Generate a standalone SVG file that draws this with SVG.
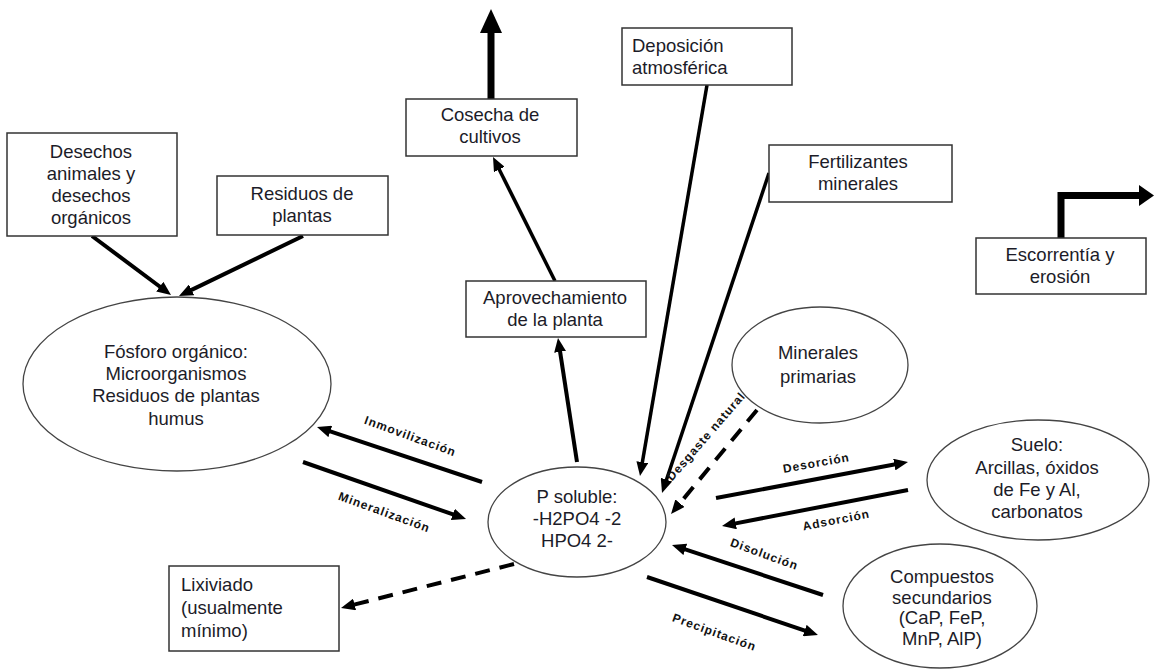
<svg xmlns="http://www.w3.org/2000/svg" width="1154" height="669" viewBox="0 0 1154 669">
  <style>
    .box { fill: #ffffff; stroke: #333333; stroke-width: 1.5; }
    .oval { fill: #ffffff; stroke: #444444; stroke-width: 1.3; }
    .t { font-family: "Liberation Sans", Arial, sans-serif; font-size: 18.5px; fill: #1c1c28; text-anchor: middle; }
    .tl { text-anchor: start; }
    .lbl { font-family: "Liberation Sans", Arial, sans-serif; font-size: 12px; font-weight: bold; fill: #111111; text-anchor: middle; letter-spacing: 1px; }
    .arr { stroke: #000000; stroke-width: 4; fill: none; marker-end: url(#head); }
    .dash { stroke: #000000; stroke-width: 4; fill: none; stroke-dasharray: 15 10; marker-end: url(#head); }
    .thin { stroke: #000000; stroke-width: 3.5; fill: none; marker-end: url(#head); }
    .big { stroke: #000000; stroke-width: 7; fill: none; }
  </style>
  <defs>
    <marker id="head" viewBox="0 0 14 12" markerWidth="14" markerHeight="12" refX="4" refY="6" markerUnits="userSpaceOnUse" orient="auto">
      <path d="M0,0 L14,6 L0,12 z" fill="#000000"/>
    </marker>
  </defs>

  <rect width="1154" height="669" fill="#ffffff"/>

  <!-- connectors -->
  <g id="connectors">
    <line class="arr" x1="92" y1="236" x2="163" y2="289"/>
    <line class="arr" x1="303" y1="236" x2="188" y2="291.6"/>
    <line class="thin" x1="555" y1="281" x2="497.5" y2="166"/>
    <line class="arr" x1="577" y1="462" x2="559.5" y2="347.9"/>
    <line class="thin" x1="707" y1="85" x2="641.7" y2="466.1"/>
    <line class="thin" x1="769" y1="173" x2="665.2" y2="483.5"/>
    <line class="dash" x1="757" y1="410" x2="677.4" y2="506.3"/>
    <line class="arr" x1="482" y1="482" x2="326.5" y2="430.2"/>
    <line class="arr" x1="303" y1="462" x2="456.6" y2="515.7"/>
    <line class="dash" x1="514" y1="564" x2="350.7" y2="605.5"/>
    <line class="arr" x1="716" y1="498" x2="898.2" y2="463.8"/>
    <line class="arr" x1="908" y1="490" x2="731.8" y2="524.1"/>
    <line class="arr" x1="823" y1="595" x2="681.5" y2="548.1"/>
    <line class="arr" x1="647" y1="577" x2="808.5" y2="631.8"/>
    <!-- heavy export arrows -->
    <line class="big" x1="491" y1="99" x2="491" y2="31"/>
    <polygon points="480,33 502,33 491,9" fill="#000000"/>
    <path class="big" d="M1061,238 V195.5 H1141"/>
    <polygon points="1139,185 1139,206 1154,195.5" fill="#000000"/>
    <!-- flow labels -->
    <text class="lbl" transform="translate(409,440) rotate(20)">Inmovilización</text>
    <text class="lbl" transform="translate(383,516) rotate(20)">Mineralización</text>
    <text class="lbl" transform="translate(709,439) rotate(-49)">Desgaste natural</text>
    <text class="lbl" transform="translate(817,467) rotate(-10)">Desorción</text>
    <text class="lbl" transform="translate(837,524) rotate(-11)">Adsorción</text>
    <text class="lbl" transform="translate(763,558) rotate(20)">Disolución</text>
    <text class="lbl" transform="translate(713,636) rotate(20)">Precipitación</text>
  </g>

  <g id="desechos">
    <rect class="box" x="7" y="133" width="170" height="103"/>
    <text class="t" x="91" y="158">Desechos</text>
    <text class="t" x="91" y="180">animales y</text>
    <text class="t" x="91" y="202">desechos</text>
    <text class="t" x="91" y="224">orgánicos</text>
  </g>

  <g id="residuos">
    <rect class="box" x="217" y="176" width="171" height="59"/>
    <text class="t" x="302" y="200">Residuos de</text>
    <text class="t" x="302" y="222">plantas</text>
  </g>

  <g id="fosforo-organico">
    <ellipse class="oval" cx="177" cy="384" rx="154" ry="87"/>
    <text class="t" x="176" y="358">Fósforo orgánico:</text>
    <text class="t" x="176" y="380">Microorganismos</text>
    <text class="t" x="176" y="402">Residuos de plantas</text>
    <text class="t" x="176" y="425">humus</text>
  </g>

  <g id="cosecha">
    <rect class="box" x="406" y="99" width="171" height="57"/>
    <text class="t" x="490" y="121">Cosecha de</text>
    <text class="t" x="490" y="143">cultivos</text>
  </g>

  <g id="deposicion">
    <rect class="box" x="622" y="28" width="170" height="57"/>
    <text class="t tl" x="632" y="52">Deposición</text>
    <text class="t tl" x="632" y="74">atmosférica</text>
  </g>

  <g id="fertilizantes">
    <rect class="box" x="769" y="145" width="183" height="57"/>
    <text class="t" x="858" y="168">Fertilizantes</text>
    <text class="t" x="858" y="190">minerales</text>
  </g>

  <g id="escorrentia">
    <rect class="box" x="976" y="238" width="170" height="56"/>
    <text class="t" x="1060" y="261">Escorrentía y</text>
    <text class="t" x="1060" y="283">erosión</text>
  </g>

  <g id="aprovechamiento">
    <rect class="box" x="466" y="281" width="180" height="56"/>
    <text class="t" x="555" y="304">Aprovechamiento</text>
    <text class="t" x="555" y="326">de la planta</text>
  </g>

  <g id="minerales-primarias">
    <ellipse class="oval" cx="820" cy="365" rx="88" ry="58"/>
    <text class="t" x="818" y="359">Minerales</text>
    <text class="t" x="818" y="383">primarias</text>
  </g>

  <g id="p-soluble">
    <ellipse class="oval" cx="577" cy="522" rx="89" ry="55"/>
    <text class="t" x="577" y="503">P soluble:</text>
    <text class="t" x="577" y="525">-H2PO4 -2</text>
    <text class="t" x="577" y="547">HPO4 2-</text>
  </g>

  <g id="suelo">
    <ellipse class="oval" cx="1038" cy="480" rx="111" ry="60"/>
    <text class="t" x="1037" y="451">Suelo:</text>
    <text class="t" x="1037" y="474">Arcillas, óxidos</text>
    <text class="t" x="1037" y="496">de Fe y Al,</text>
    <text class="t" x="1037" y="518">carbonatos</text>
  </g>

  <g id="compuestos-secundarios">
    <ellipse class="oval" cx="940" cy="606" rx="97" ry="62"/>
    <text class="t" x="942" y="583">Compuestos</text>
    <text class="t" x="942" y="604">secundarios</text>
    <text class="t" x="942" y="624">(CaP, FeP,</text>
    <text class="t" x="942" y="645">MnP, AlP)</text>
  </g>

  <g id="lixiviado">
    <rect class="box" x="169" y="566" width="170" height="85"/>
    <text class="t tl" x="181" y="591">Lixiviado</text>
    <text class="t tl" x="181" y="614">(usualmente</text>
    <text class="t tl" x="181" y="637">mínimo)</text>
  </g>
</svg>
